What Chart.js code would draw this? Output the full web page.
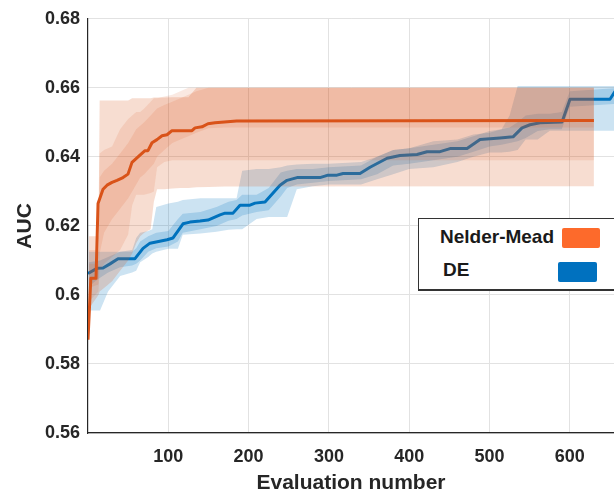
<!DOCTYPE html>
<html>
<head>
<meta charset="utf-8">
<script src="https://cdn.jsdelivr.net/npm/chart.js@4.4.1/dist/chart.umd.min.js"></script>
<style>
  body { margin: 0; background: #fff; }
  #wrap { position: relative; width: 614px; height: 498px; overflow: hidden; }
  .lg { position: absolute; font: bold 19px "Liberation Sans", Arial, sans-serif; color: #1a1a1a; line-height: 19px; white-space: nowrap; }
  .sw { position: absolute; border-radius: 2px; }
</style>
</head>
<body>
<div id="wrap">
  <canvas id="chart" width="614" height="498"></canvas>
  <div style="position:absolute;left:418px;top:218px;width:220px;height:70px;border:1px solid #333;border-bottom-width:2px;background:#fff;"></div>
  <div class="lg" style="left:440px;top:227px;">Nelder-Mead</div>
  <div class="sw" style="left:562px;top:228px;width:38px;height:20px;background:#fd6a2b;"></div>
  <div class="lg" style="left:443px;top:260px;">DE</div>
  <div class="sw" style="left:558px;top:262px;width:39px;height:20px;background:#0071bf;"></div>
</div>
<script>
// Nelder-Mead: median best AUC vs evaluation number
const orangeX = [0, 3.5, 10, 12.5, 18.7, 23.7, 29.9, 36.1, 43.6, 49.8, 54.8, 62.3, 71, 74.7, 79.7, 85.9, 92.2, 98.4, 104.6, 129.5, 133.3, 142, 149.4, 158.2, 185, 630];
const orangeMed = [0.587, 0.6048, 0.6048, 0.6265, 0.6306, 0.6318, 0.6326, 0.6332, 0.634, 0.635, 0.6384, 0.640, 0.6418, 0.6418, 0.6441, 0.645, 0.6461, 0.6464, 0.6476, 0.6476, 0.6484, 0.6487, 0.6496, 0.6499, 0.6504, 0.6505];

// Nelder-Mead spread bands (outer = 1, inner = 3)
const orangeBandX = [1, 13, 14.5, 20, 30, 40, 50, 55, 60, 65, 70, 78, 82, 86, 95, 105, 115, 125, 135, 150, 170, 630];
const orangeHi1 = [0.617, 0.617, 0.6563, 0.6563, 0.6563, 0.6563, 0.6563, 0.657, 0.657, 0.657, 0.657, 0.657, 0.6572, 0.6572, 0.6572, 0.6573, 0.6573, 0.6573, 0.66, 0.66, 0.66, 0.66];
const orangeLo1 = [0.596, 0.600, 0.601, 0.602, 0.604, 0.607, 0.610, 0.612, 0.615, 0.617, 0.618, 0.619, 0.627, 0.6306, 0.6306, 0.6308, 0.631, 0.631, 0.6312, 0.6313, 0.6314, 0.6315];
const orangeHi2 = [0.613, 0.613, 0.641, 0.642, 0.643, 0.648, 0.651, 0.652, 0.653, 0.653, 0.654, 0.656, 0.657, 0.657, 0.6575, 0.658, 0.659, 0.66, 0.66, 0.66, 0.66, 0.66];
const orangeLo2 = [0.598, 0.601, 0.607, 0.609, 0.611, 0.613, 0.6175, 0.626, 0.629, 0.629, 0.629, 0.6295, 0.630, 0.637, 0.6385, 0.639, 0.639, 0.639, 0.639, 0.639, 0.639, 0.639];
const orangeHi3 = [0.609, 0.609, 0.634, 0.636, 0.638, 0.641, 0.644, 0.646, 0.648, 0.649, 0.650, 0.652, 0.653, 0.654, 0.655, 0.656, 0.657, 0.658, 0.659, 0.66, 0.66, 0.66];
const orangeLo3 = [0.602, 0.603, 0.612, 0.618, 0.622, 0.625, 0.628, 0.630, 0.632, 0.634, 0.635, 0.637, 0.638, 0.640, 0.642, 0.644, 0.645, 0.646, 0.647, 0.6483, 0.6485, 0.6485];

// DE: median best AUC
const blueX = [0, 11.2, 18.7, 27.4, 37.4, 58.5, 68.5, 77.2, 98.4, 105.9, 118.3, 127, 139.5, 149.4, 164.4, 170.6, 180.6, 189.3, 201.7, 208, 220.4, 239.1, 247.8, 260.3, 288.9, 298.9, 310, 317.6, 338.7, 351.2, 372.4, 388.5, 409.7, 422.2, 438.4, 450.8, 472, 488.2, 513, 529.3, 540.5, 550.4, 562.9, 590.3, 600.2, 650, 662];
const blueMed = [0.6062, 0.6077, 0.6078, 0.609, 0.6105, 0.6105, 0.6135, 0.615, 0.616, 0.6165, 0.6206, 0.6211, 0.6214, 0.6217, 0.6232, 0.6237, 0.6237, 0.626, 0.626, 0.6266, 0.6269, 0.6318, 0.6332, 0.634, 0.634, 0.6347, 0.6347, 0.6352, 0.6352, 0.637, 0.6396, 0.6404, 0.6407, 0.6415, 0.6415, 0.6424, 0.6424, 0.645, 0.6455, 0.6458, 0.6484, 0.6493, 0.6499, 0.6501, 0.6567, 0.6567, 0.661];

// DE spread bands
const blueBandX = [1, 15, 25, 40, 55, 60, 65, 75, 80, 85, 100, 112, 118, 140, 160, 175, 185, 192, 210, 225, 240, 248, 260, 280, 300, 340, 360, 380, 400, 430, 460, 480, 500, 515, 525, 535, 545, 560, 575, 590, 600, 665];
const blueHi1 = [0.6125, 0.6125, 0.6125, 0.6125, 0.613, 0.6165, 0.618, 0.6185, 0.619, 0.6255, 0.6265, 0.627, 0.6275, 0.628, 0.628, 0.628, 0.628, 0.636, 0.6365, 0.6365, 0.637, 0.6375, 0.6378, 0.638, 0.638, 0.6385, 0.640, 0.642, 0.6425, 0.6445, 0.645, 0.6465, 0.647, 0.648, 0.652, 0.6605, 0.6605, 0.6605, 0.6605, 0.6605, 0.6605, 0.6605];
const blueLo1 = [0.5955, 0.5955, 0.601, 0.6055, 0.6065, 0.607, 0.6095, 0.611, 0.612, 0.6125, 0.6134, 0.6134, 0.6174, 0.6178, 0.6183, 0.6189, 0.619, 0.619, 0.622, 0.6226, 0.6226, 0.6226, 0.6306, 0.6315, 0.632, 0.632, 0.6335, 0.635, 0.6365, 0.637, 0.6385, 0.640, 0.6413, 0.6413, 0.6415, 0.642, 0.645, 0.645, 0.6476, 0.6476, 0.6476, 0.6476];
const blueHi2 = [0.6095, 0.610, 0.611, 0.6125, 0.6125, 0.6135, 0.6155, 0.617, 0.6175, 0.618, 0.6185, 0.622, 0.6235, 0.624, 0.6255, 0.627, 0.6275, 0.629, 0.629, 0.631, 0.6355, 0.636, 0.6365, 0.6365, 0.637, 0.6375, 0.640, 0.642, 0.6425, 0.6435, 0.6445, 0.646, 0.6475, 0.648, 0.6485, 0.650, 0.652, 0.6525, 0.6525, 0.653, 0.659, 0.660];
const blueLo2 = [0.6025, 0.605, 0.6065, 0.608, 0.6085, 0.609, 0.610, 0.6125, 0.613, 0.6135, 0.614, 0.6155, 0.618, 0.619, 0.620, 0.6215, 0.622, 0.623, 0.624, 0.6245, 0.6285, 0.631, 0.632, 0.6325, 0.633, 0.6335, 0.635, 0.6375, 0.638, 0.639, 0.640, 0.6415, 0.643, 0.6435, 0.644, 0.6445, 0.6455, 0.6475, 0.648, 0.648, 0.6545, 0.6555];

const xTicks = [100, 200, 300, 400, 500, 600];

function pts(xs, ys) {
  return xs.map(function (x, i) {
    return { x: x, y: ys[i] };
  });
}

function line(xs, ys, color) {
  return {
    data: pts(xs, ys),
    borderColor: color,
    borderWidth: 3,
    fill: false,
    borderJoinStyle: "round",
  };
}

// upper edge fills down to the next dataset (the lower edge)
function edge(xs, ys, fillColor) {
  return {
    data: pts(xs, ys),
    borderColor: "rgba(0,0,0,0)",
    borderWidth: 0,
    backgroundColor: fillColor || "rgba(0,0,0,0)",
    fill: fillColor ? "+1" : false,
  };
}

const tickFont = { family: "'Liberation Sans', Arial, sans-serif", size: 18, weight: "bold" };
const titleFont = { family: "'Liberation Sans', Arial, sans-serif", size: 21, weight: "bold" };

new Chart("chart", {
  type: "line",
  data: {
    datasets: [
      line(orangeX, orangeMed, "#d95319"),
      edge(orangeBandX, orangeHi3, "rgba(217,83,25,0.135)"),
      edge(orangeBandX, orangeLo3),
      edge(orangeBandX, orangeHi2, "rgba(217,83,25,0.125)"),
      edge(orangeBandX, orangeLo2),
      edge(orangeBandX, orangeHi1, "rgba(217,83,25,0.2)"),
      edge(orangeBandX, orangeLo1),
      line(blueX, blueMed, "#0072bd"),
      edge(blueBandX, blueHi2, "rgba(0,114,189,0.2)"),
      edge(blueBandX, blueLo2),
      edge(blueBandX, blueHi1, "rgba(0,114,189,0.2)"),
      edge(blueBandX, blueLo1),
    ],
  },
  options: {
    responsive: false,
    animation: false,
    devicePixelRatio: 1,
    layout: { padding: { top: 15, right: 0, bottom: 0, left: 0 } },
    elements: { point: { radius: 0 }, line: { tension: 0 } },
    plugins: { legend: { display: false }, tooltip: { enabled: false } },
    scales: {
      x: {
        type: "linear",
        min: 0,
        max: 655,
        afterBuildTicks: function (s) {
          s.ticks = xTicks.map(function (v) { return { value: v }; });
        },
        afterFit: function (s) { s.height = 65; },
        grid: { color: "#e2e2e2", drawTicks: false },
        border: { color: "#262626", width: 1.2 },
        ticks: { color: "#262626", font: tickFont, padding: 13, maxRotation: 0 },
        title: { display: true, text: "Evaluation number", color: "#262626", font: titleFont, padding: { top: 0, bottom: 2 } },
      },
      y: {
        min: 0.56,
        max: 0.68,
        afterFit: function (s) { s.width = 88; },
        grid: { color: "#e2e2e2", drawTicks: false },
        border: { color: "#262626", width: 1.2 },
        ticks: {
          stepSize: 0.02,
          color: "#262626",
          font: tickFont,
          padding: 8,
          callback: function (v) { return String(+v.toFixed(2)); },
        },
        title: { display: true, text: "AUC", color: "#262626", font: titleFont, padding: { top: 13, bottom: 0 } },
      },
    },
  },
});
</script>
</body>
</html>
